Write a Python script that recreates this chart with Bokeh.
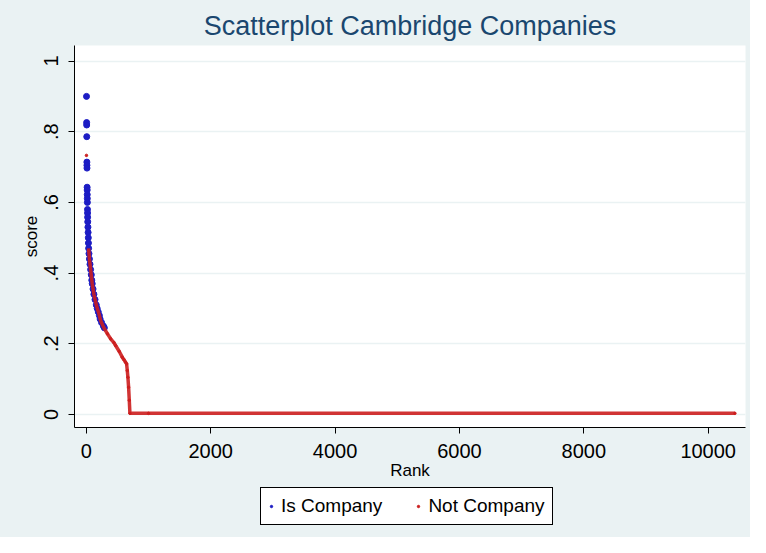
import math
from bokeh.plotting import figure
from bokeh.layouts import column
from bokeh.models import Range1d, FixedTicker, Legend, LegendItem
from bokeh.embed import file_html
from bokeh.resources import INLINE

# Chart text and ticks
title = "Scatterplot Cambridge Companies"
x_label = "Rank"
y_label = "score"
x_ticks = [0, 2000, 4000, 6000, 8000, 10000]
y_ticks = [0, 0.2, 0.4, 0.6, 0.8, 1.0]
y_tick_labels = ["0", ".2", ".4", ".6", ".8", "1"]
series_names = ["Is Company", "Not Company"]

# "Is Company" points
company_rank = [3, 5, 6, 7, 9, 10, 11, 13, 14, 15, 16, 17, 19, 20, 21, 23, 26,
                29, 32, 34, 37, 43, 50, 59, 69, 80, 88, 95, 108, 122, 140, 160,
                175, 192, 210, 222, 245, 275, 290]
company_score = [0.900, 0.826, 0.819, 0.786, 0.714, 0.705, 0.697, 0.643, 0.635,
                 0.622, 0.611, 0.600, 0.580, 0.570, 0.558, 0.545, 0.530, 0.515,
                 0.500, 0.485, 0.470, 0.455, 0.440, 0.425, 0.410, 0.395, 0.380,
                 0.370, 0.355, 0.340, 0.325, 0.310, 0.300, 0.290, 0.280, 0.270,
                 0.260, 0.250, 0.245]

# "Not Company" points
not_company_rank = [2, 22, 37, 50, 69, 95, 122, 160, 203, 229, 283, 340, 391,
                    444, 471, 530, 578, 605, 630, 648, 659, 669, 680, 691, 701,
                    1000, 10430]
not_company_score = [0.733, 0.550, 0.470, 0.440, 0.410, 0.370, 0.340, 0.310,
                     0.285, 0.266, 0.245, 0.228, 0.214, 0.203, 0.195, 0.178,
                     0.162, 0.155, 0.148, 0.143, 0.124, 0.105, 0.077, 0.040,
                     0.003, 0.003, 0.003]

BLUE = "#1C1CC4"
RED = "#CC1E1E"
BG = "#EAF2F3"
FONT = "Liberation Sans"

p = figure(frame_width=671, frame_height=382, output_backend="svg",
           toolbar_location=None,
           x_range=Range1d(-190, 10600), y_range=Range1d(-0.037, 1.044),
           min_border_left=74, min_border_right=5, min_border_top=45,
           min_border_bottom=60)
p.background_fill_color = "white"
p.border_fill_color = BG
p.outline_line_color = None

p.title.text = title
p.title.align = "center"
p.title.text_font = FONT
p.title.text_font_size = "27px"
p.title.text_font_style = "normal"
p.title.text_color = "#1A476F"

p.xgrid.grid_line_color = None
p.ygrid.grid_line_color = BG
p.ygrid.grid_line_width = 1.5

p.xaxis.ticker = FixedTicker(ticks=x_ticks)
p.yaxis.ticker = FixedTicker(ticks=y_ticks)
p.yaxis.major_label_overrides = dict(zip(y_ticks, y_tick_labels))
p.yaxis.major_label_orientation = "vertical"
p.xaxis.axis_label = x_label
p.yaxis.axis_label = y_label
for ax in (p.xaxis, p.yaxis):
    ax.axis_line_color = "black"
    ax.major_tick_line_color = "black"
    ax.major_tick_out = 6
    ax.major_tick_in = 0
    ax.minor_tick_line_color = None
    ax.major_label_text_font = FONT
    ax.major_label_text_font_size = "20px"
    ax.major_label_text_color = "black"
    ax.axis_label_text_font = FONT
    ax.axis_label_text_font_size = "17px"
    ax.axis_label_text_font_style = "normal"
    ax.axis_label_text_color = "black"
p.xaxis.major_label_standoff = 10
p.xaxis.axis_label_standoff = 0
p.yaxis.major_label_standoff = 10
p.yaxis.axis_label_standoff = 1

# Not Company: dense trail drawn as a thick line through the read points
p.scatter(not_company_rank, not_company_score, size=2.5, color=RED)
p.scatter(company_rank, company_score, size=6, color=BLUE)
p.line(not_company_rank[2:], not_company_score[2:], line_color=RED,
       line_width=3.5, line_alpha=0.9)

# legend strip under the chart
lg = figure(width=750, height=50, output_backend="svg", toolbar_location=None,
            x_axis_type=None, y_axis_type=None, min_border=0,
            x_range=Range1d(0, 1), y_range=Range1d(0, 1))
lg.background_fill_color = None
lg.border_fill_color = BG
lg.outline_line_color = None
lg.xgrid.grid_line_color = None
lg.ygrid.grid_line_color = None
k_is = lg.scatter([math.nan], [math.nan], size=2.5, color=BLUE)
k_not = lg.scatter([math.nan], [math.nan], size=2.5, color=RED)

legend = Legend(items=[LegendItem(label=series_names[0], renderers=[k_is]),
                       LegendItem(label=series_names[1], renderers=[k_not])],
                orientation="horizontal", location=(186, 12))
legend.label_text_font = FONT
legend.label_text_font_size = "19px"
legend.label_text_color = "black"
legend.padding = 7
legend.glyph_width = 6
legend.label_standoff = 7
legend.spacing = 33
legend.border_line_color = "black"
legend.border_line_width = 1
legend.border_line_alpha = 1
legend.background_fill_color = "white"
legend.background_fill_alpha = 1
legend.margin = 0
lg.add_layout(legend)

layout = column(p, lg, spacing=0, styles={"background-color": BG})
open("out.html", "w").write(file_html(layout, INLINE))
